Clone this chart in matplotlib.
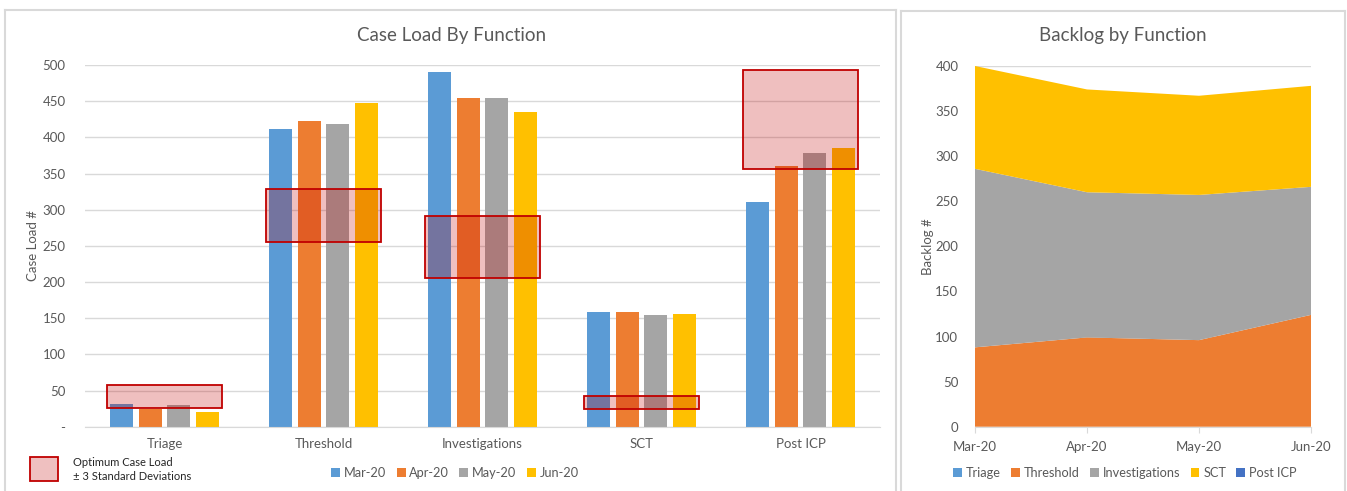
import matplotlib.pyplot as plt
import numpy as np
from matplotlib.patches import Rectangle

plt.rcParams['font.family'] = ['Lato', 'DejaVu Sans']

# Case load per function and month
functions = ["Triage", "Threshold", "Investigations", "SCT", "Post ICP"]
months = ["Mar-20", "Apr-20", "May-20", "Jun-20"]
mar_20 = [31, 411, 491, 158, 311]
apr_20 = [25, 422, 454, 158, 361]
may_20 = [30, 419, 454, 154, 379]
jun_20 = [20, 448, 435, 156, 385]

# Optimum case load band (± 3 standard deviations)
opt_low = [26, 255, 206, 24, 356]
opt_high = [57, 328, 291, 43, 493]

# Backlog per function (stacked area)
backlog_triage = [0, 0, 0, 0]
backlog_threshold = [88, 99, 96, 124]
backlog_investigations = [198, 161, 161, 142]
backlog_sct = [114, 114, 110, 112]
backlog_post_icp = [0, 0, 0, 0]

BLUE = "#5B9BD5"
ORANGE = "#ED7D31"
GRAY = "#A5A5A5"
YELLOW = "#FFC000"
DARK_BLUE = "#4472C4"
BAND_RED = "#C00000"
TEXT = "#595959"
GRID = "#D9D9D9"

W, H = 1347, 491
fig = plt.figure(figsize=(W / 100, H / 100), dpi=100)


def fx(px):
    return px / W


def fy(px):
    return 1 - px / H


# panel borders
for x0, x1, y0 in [(5, 896, 10), (901, 1345, 11)]:
    fig.add_artist(plt.Line2D([fx(x0), fx(x1)], [fy(y0), fy(y0)], color=GRID, lw=1.5))
    fig.add_artist(plt.Line2D([fx(x0), fx(x0)], [fy(y0), 0], color=GRID, lw=1.5))
    fig.add_artist(plt.Line2D([fx(x1), fx(x1)], [fy(y0), 0], color=GRID, lw=1.5))

# ---- Case load bar chart ----
ax = fig.add_axes([fx(85), fy(426.7), fx(880 - 85), fy(65) - fy(426.7)])
x = np.arange(len(functions))
step, width = 0.182, 0.145
series = [mar_20, apr_20, may_20, jun_20]
colors = [BLUE, ORANGE, GRAY, YELLOW]
for i, (vals, c, m) in enumerate(zip(series, colors, months)):
    ax.bar(x + (i - 1.5) * step, vals, width, color=c, label=m, zorder=2)

for xi, lo, hi in zip(x, opt_low, opt_high):
    ax.add_patch(Rectangle((xi - 0.362, lo), 0.724, hi - lo, facecolor=BAND_RED,
                           alpha=0.25, edgecolor="none", zorder=3))
    ax.add_patch(Rectangle((xi - 0.362, lo), 0.724, hi - lo, facecolor="none",
                           edgecolor=BAND_RED, lw=1.3, zorder=4))

ax.set_xlim(-0.5, len(functions) - 0.5)
ax.set_ylim(0, 500)
ax.set_yticks(np.arange(0, 501, 50))
ax.set_yticklabels(["-"] + [str(v) for v in range(50, 501, 50)])
ax.set_xticks(x)
ax.set_xticklabels(functions)
ax.grid(axis="y", color=GRID, lw=1, zorder=0)
for s in ["top", "right", "left"]:
    ax.spines[s].set_visible(False)
ax.spines["bottom"].set_color(GRID)
ax.tick_params(length=0, colors=TEXT, labelsize=9.5, pad=8)
ax.tick_params(axis="y", pad=14)
ax.set_ylabel("Case Load #", color=TEXT, fontsize=9.5)
ax.yaxis.set_label_coords((39 - 85) / 795, 0.5)
fig.text(fx(452), fy(36), "Case Load By Function", color=TEXT, fontsize=13.5, ha="center", va="center")

ax.legend(loc="center", bbox_to_anchor=((455 - 85) / 795, (fy(473) - fy(426.7)) / (fy(65) - fy(426.7))),
          bbox_transform=ax.transAxes, ncol=4, frameon=False, fontsize=9.2, handlelength=0.7,
          handleheight=0.7, handletextpad=0.3, columnspacing=0.8, labelcolor=TEXT)

# band legend key
fig.add_artist(Rectangle((fx(30), fy(481)), fx(58 - 30), fy(457) - fy(481), transform=fig.transFigure,
                         facecolor="#EFC0C0", edgecolor=BAND_RED, lw=1.3))
fig.text(fx(73), fy(462), "Optimum Case Load", fontsize=8, color="#262626", va="center")
fig.text(fx(73), fy(476), "± 3 Standard Deviations", fontsize=8, color="#262626", va="center")

# ---- Backlog stacked area ----
ax2 = fig.add_axes([fx(975), fy(426.7), fx(1311 - 975), fy(66) - fy(426.7)])
mx = np.arange(len(months))
ax2.stackplot(mx, backlog_triage, backlog_threshold, backlog_investigations, backlog_sct,
              backlog_post_icp, colors=[BLUE, ORANGE, GRAY, YELLOW, DARK_BLUE],
              labels=["Triage", "Threshold", "Investigations", "SCT", "Post ICP"], zorder=2)
ax2.set_xlim(0, len(months) - 1)
ax2.set_ylim(0, 400)
ax2.set_yticks(np.arange(0, 401, 50))
ax2.set_xticks(mx)
ax2.set_xticklabels(months)
ax2.grid(axis="y", color=GRID, lw=1, zorder=0)
for s in ["top", "right", "left"]:
    ax2.spines[s].set_visible(False)
ax2.spines["bottom"].set_color(GRID)
ax2.tick_params(axis="x", length=4, color=GRID, colors=TEXT, labelsize=9.5, pad=6)
ax2.tick_params(axis="y", length=0, colors=TEXT, labelsize=9.5, pad=12)
ax2.set_ylabel("Backlog #", color=TEXT, fontsize=9.5)
ax2.yaxis.set_label_coords((934 - 975) / 336, 0.5)
fig.text(fx(1123), fy(36), "Backlog by Function", color=TEXT, fontsize=13.5, ha="center", va="center")
ax2.legend(loc="center", bbox_to_anchor=((1125 - 975) / 336, (fy(473) - fy(426.7)) / (fy(66) - fy(426.7))),
           bbox_transform=ax2.transAxes, ncol=5, frameon=False, fontsize=9.2, handlelength=0.7,
           handleheight=0.7, handletextpad=0.3, columnspacing=0.8, labelcolor=TEXT)

fig.savefig("out.png", dpi=100)
